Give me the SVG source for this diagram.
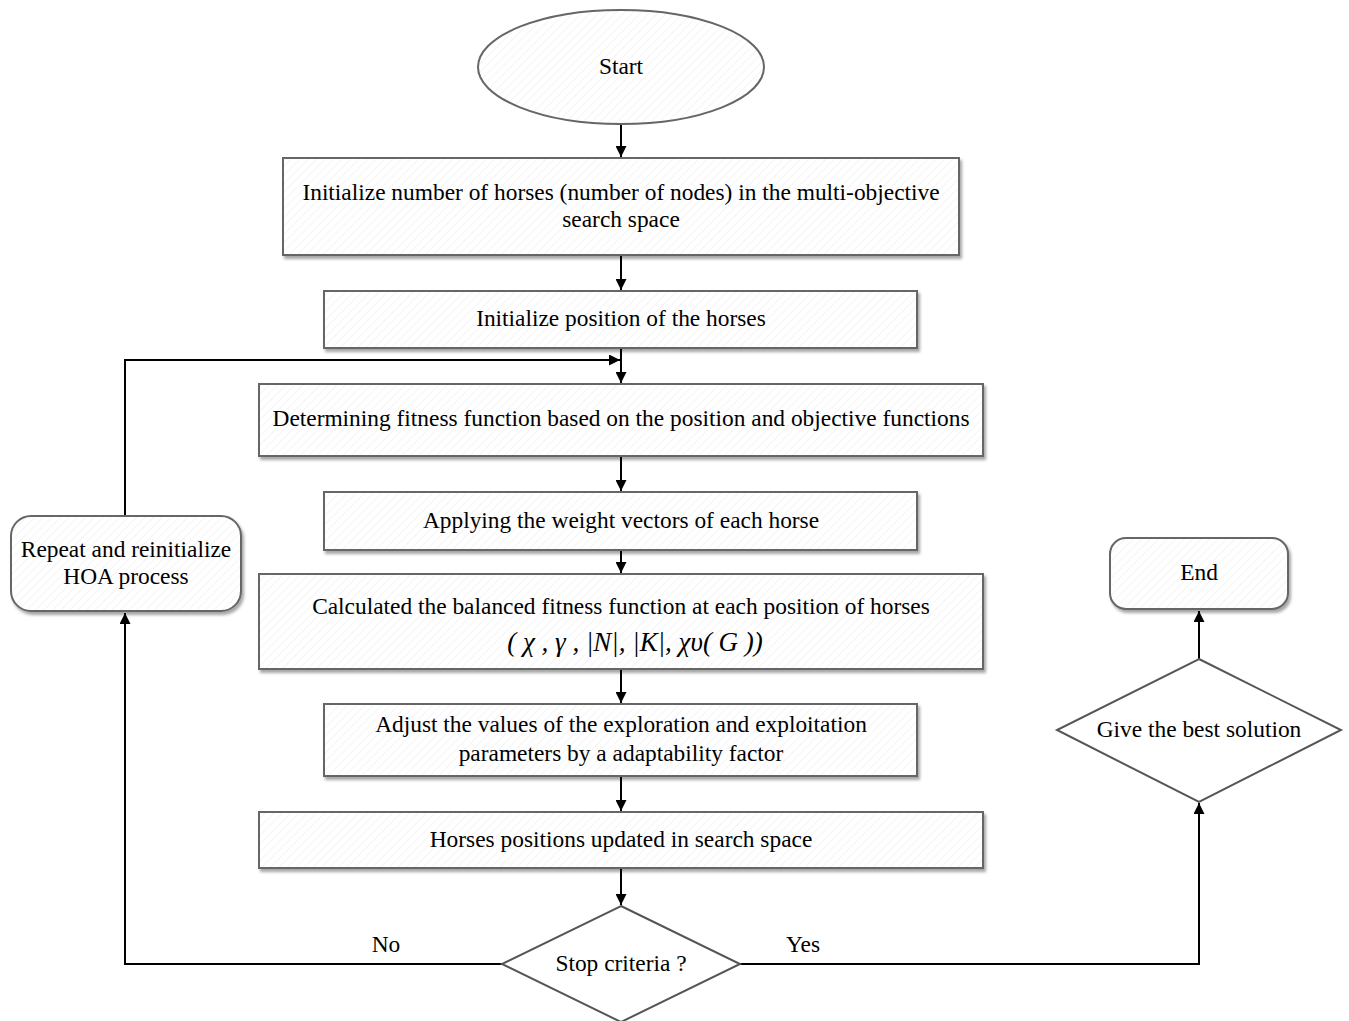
<svg xmlns="http://www.w3.org/2000/svg" width="1349" height="1021" viewBox="0 0 1349 1021">
<defs>
<pattern id="hatch" width="6" height="6" patternUnits="userSpaceOnUse" patternTransform="rotate(45)">
<rect width="6" height="6" fill="#ffffff"/>
<line x1="0" y1="0" x2="0" y2="6" stroke="#ececec" stroke-width="1"/>
</pattern>
<filter id="sh" x="-10%" y="-10%" width="120%" height="130%">
<feDropShadow dx="2" dy="3" stdDeviation="1.5" flood-color="#000" flood-opacity="0.35"/>
</filter>
<marker id="arr" viewBox="0 0 10 10" refX="10" refY="5" markerWidth="11" markerHeight="11" markerUnits="userSpaceOnUse" orient="auto">
<path d="M0,0 L10,5 L0,10 z" fill="#000"/>
</marker>
</defs>
<style>
.box{fill:url(#hatch);stroke:#666;stroke-width:2;filter:url(#sh)}
.dia{fill:#fff;stroke:#555;stroke-width:2}
.t{font-family:"Liberation Serif","Times New Roman",serif;font-size:23.4px;fill:#000;text-anchor:middle}
.f{font-style:italic;font-size:27px}
.c{fill:none;stroke:#000;stroke-width:2}
</style>
<rect width="1349" height="1021" fill="#fff"/>
<g id="connectors">
<path class="c" d="M621,124 V157" marker-end="url(#arr)"/>
<path class="c" d="M621,255 V290" marker-end="url(#arr)"/>
<path class="c" d="M621,348 V383" marker-end="url(#arr)"/>
<path class="c" d="M125,516 V360 H620" marker-end="url(#arr)"/>
<path class="c" d="M621,456 V491" marker-end="url(#arr)"/>
<path class="c" d="M621,550 V573" marker-end="url(#arr)"/>
<path class="c" d="M621,669 V703" marker-end="url(#arr)"/>
<path class="c" d="M621,776 V811" marker-end="url(#arr)"/>
<path class="c" d="M621,868 V905" marker-end="url(#arr)"/>
<path class="c" d="M502,964 H125 V613" marker-end="url(#arr)"/>
<path class="c" d="M740,964 H1199 V803" marker-end="url(#arr)"/>
<path class="c" d="M1199,659 V611" marker-end="url(#arr)"/>
<text class="t" x="386" y="952">No</text>
<text class="t" x="803" y="952">Yes</text>
</g>
<g id="start">
<ellipse cx="621" cy="67" rx="143" ry="57" fill="url(#hatch)" stroke="#666" stroke-width="2"/>
<text class="t" x="621" y="74">Start</text>
</g>
<g id="init-number">
<rect class="box" x="283" y="158" width="676" height="97"/>
<text class="t" x="621" y="200">Initialize number of horses (number of nodes) in the multi-objective</text>
<text class="t" x="621" y="227">search space</text>
</g>
<g id="init-position">
<rect class="box" x="324" y="291" width="593" height="57"/>
<text class="t" x="621" y="326">Initialize position of the horses</text>
</g>
<g id="determine-fitness">
<rect class="box" x="259" y="384" width="724" height="72"/>
<text class="t" x="621" y="426">Determining fitness function based on the position and objective functions</text>
</g>
<g id="apply-weights">
<rect class="box" x="324" y="492" width="593" height="58"/>
<text class="t" x="621" y="528">Applying the weight vectors of each horse</text>
</g>
<g id="balanced-fitness">
<rect class="box" x="259" y="574" width="724" height="95"/>
<text class="t" x="621" y="614">Calculated the balanced fitness function at each position of horses</text>
<text class="t f" x="635" y="651" xml:space="preserve">( χ , γ , |N|, |K|, χυ( G ))</text>
</g>
<g id="adjust">
<rect class="box" x="324" y="704" width="593" height="72"/>
<text class="t" x="621" y="732">Adjust the values of the exploration and exploitation</text>
<text class="t" x="621" y="761">parameters by a adaptability factor</text>
</g>
<g id="update">
<rect class="box" x="259" y="812" width="724" height="56"/>
<text class="t" x="621" y="847">Horses positions updated in search space</text>
</g>
<g id="stop">
<polygon class="dia" points="621,906 740,964 621,1022 502,964"/>
<text class="t" x="621" y="971">Stop criteria ?</text>
</g>
<g id="repeat">
<rect class="box" x="11" y="516" width="230" height="95" rx="20"/>
<text class="t" x="126" y="557">Repeat and reinitialize</text>
<text class="t" x="126" y="584">HOA process</text>
</g>
<g id="best">
<polygon class="dia" points="1199,659 1341,730 1199,802 1057,730"/>
<text class="t" x="1199" y="737">Give the best solution</text>
</g>
<g id="end">
<rect class="box" x="1110" y="538" width="178" height="71" rx="16"/>
<text class="t" x="1199" y="580">End</text>
</g>
</svg>
